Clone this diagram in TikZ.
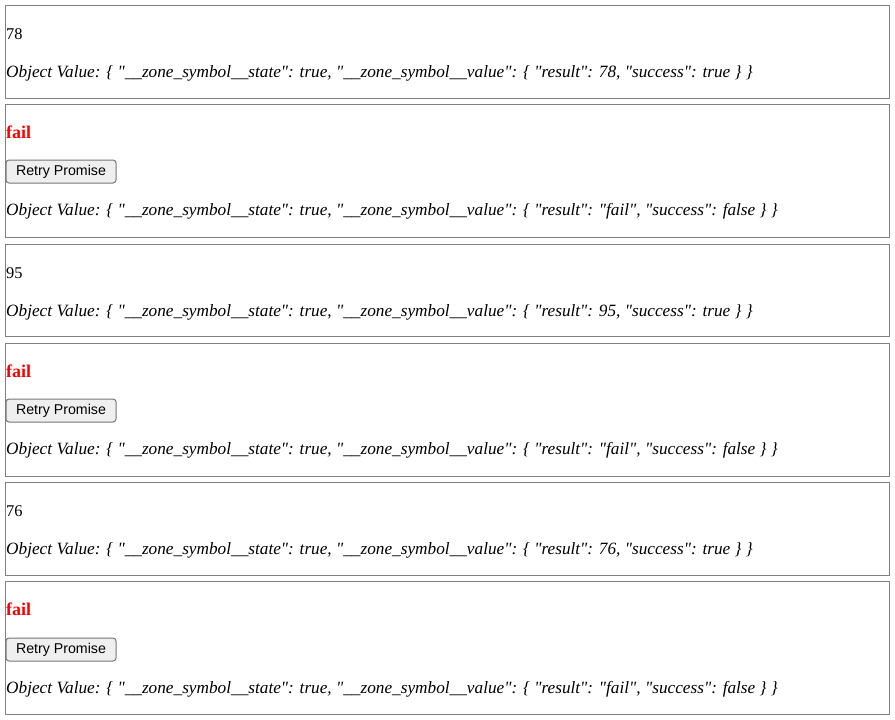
\documentclass[tikz,border=0pt]{standalone}
\usepackage{fontspec}
\setmainfont{Liberation Serif}[Ligatures=TeXOff]
\newfontfamily\btnfont{Liberation Sans}
\definecolor{bordergray}{HTML}{808080}
\definecolor{btnfill}{HTML}{EFEFEF}
\definecolor{btnborder}{HTML}{767676}
\definecolor{failred}{HTML}{FF0000}
\newcommand{\objval}[2]{Object Value: \{ "\_\_zone\_symbol\_\_state": true, "\_\_zone\_symbol\_\_value": \{ "result": #1, "success": #2 \} \}}
\begin{document}
\begin{tikzpicture}[x=1pt,y=-1pt,
  panel/.style={draw=bordergray,line width=1pt},
  numtext/.style={anchor=base west,inner sep=0pt,font=\fontsize{16.4}{19}\selectfont},
  objtext/.style={anchor=base west,inner sep=0pt,font=\fontsize{17.25}{19}\selectfont\itshape},
  failtext/.style={anchor=base west,inner sep=0pt,text=failred,font=\fontsize{18}{22}\selectfont\bfseries},
  retrybtn/.style={draw=btnborder,fill=btnfill,rounded corners=3pt,line width=1pt,minimum width=110pt,minimum height=23pt,inner sep=0pt,anchor=north west,font=\btnfont\fontsize{14.2}{17}\selectfont}]
\useasboundingbox (0,0) rectangle (895,720);
\fill[white] (0,0) rectangle (895,720);
% panels
\draw[panel] (5.5,5.5) rectangle (889.5,98.5);
\draw[panel] (5.5,104.5) rectangle (889.5,237.5);
\draw[panel] (5.5,244.5) rectangle (889.5,336.5);
\draw[panel] (5.5,343.5) rectangle (889.5,476.5);
\draw[panel] (5.5,482.5) rectangle (889.5,575.5);
\draw[panel] (5.5,581.5) rectangle (889.5,714.5);
% box 1
\node[numtext] (n1) at (6,39) {78};
\node[objtext] (o1) at (6,77) {\objval{78}{true}};
% box 2
\node[failtext] (f2) at (6,138) {fail};
\node[retrybtn] (r2) at (5.5,159.5) {Retry Promise};
\node[objtext] (o2) at (6,215) {\objval{"fail"}{false}};
% box 3
\node[numtext] (n3) at (6,278) {95};
\node[objtext] (o3) at (6,316) {\objval{95}{true}};
% box 4
\node[failtext] (f4) at (6,377) {fail};
\node[retrybtn] (r4) at (5.5,398.5) {Retry Promise};
\node[objtext] (o4) at (6,454) {\objval{"fail"}{false}};
% box 5
\node[numtext] (n5) at (6,516) {76};
\node[objtext] (o5) at (6,554) {\objval{76}{true}};
% box 6
\node[failtext] (f6) at (6,615) {fail};
\node[retrybtn] (r6) at (5.5,637.5) {Retry Promise};
\node[objtext] (o6) at (6,693) {\objval{"fail"}{false}};
\end{tikzpicture}
\end{document}
